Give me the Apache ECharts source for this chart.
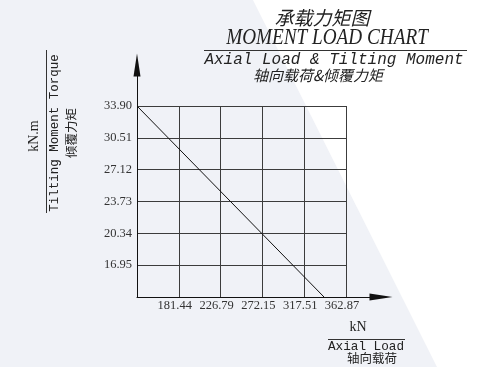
<!DOCTYPE html>
<html>
<head>
<meta charset="utf-8">
<script src="https://cdn.jsdelivr.net/npm/echarts@6/dist/echarts.min.js"></script>
<style>
html, body { margin: 0; padding: 0; }
#chart { width: 491px; height: 367px; }
</style>
</head>
<body>
<div id="chart"></div>
<script>
// axial load ticks (kN)
const xTicks = [136.08, 181.44, 226.79, 272.15, 317.51, 362.87]
const xTickLabels = ['', '181.44', '226.79', '272.15', '317.51', '362.87']
// tilting moment ticks (kN.m)
const yTicks = [13.56, 16.95, 20.34, 23.73, 27.12, 30.51, 33.90]
const yTickLabels = ['', '16.95', '20.34', '23.73', '27.12', '30.51', '33.90']
// load limit line
const lineX = [136.08, 339.0]
const lineY = [33.90, 13.56]

const ink = '#222'
const gridColor = '#3c3c3c'
const serif = 'Liberation Serif'
const mono = 'Liberation Mono'
const cjk = 'Noto Sans CJK SC'

const chart = echarts.init(document.getElementById('chart'))

function txt (text, x, y, font, opts) {
  return Object.assign({
    type: 'text',
    x: x,
    y: y,
    style: {
      text: text,
      font: font,
      fill: ink,
      align: 'center',
      verticalAlign: 'middle',
      textAlign: 'center',
      textVerticalAlign: 'middle'
    }
  }, opts || {})
}

function hline (x1, y1, x2, y2) {
  return {
    type: 'line',
    shape: { x1: x1, y1: y1, x2: x2, y2: y2 },
    style: { stroke: '#333', lineWidth: 1 }
  }
}

const option = {
  backgroundColor: '#f0f2f7',
  animation: false,
  grid: [
    { left: 137, top: 106, width: 209, height: 191, outerBoundsMode: 'none' },
    { left: 137, top: 65, width: 244, height: 232, outerBoundsMode: 'none' }
  ],
  xAxis: [
    {
      type: 'value',
      gridIndex: 0,
      min: xTicks[0],
      max: xTicks[xTicks.length - 1],
      interval: +(xTicks[1] - xTicks[0]).toFixed(2),
      axisLine: { show: false },
      axisTick: { show: false },
      splitLine: { show: true, lineStyle: { color: gridColor, width: 1 } },
      axisLabel: {
        margin: 2,
        fontFamily: serif,
        fontSize: 12.5,
        color: '#333',
        padding: [0, 8, 0, 0],
        formatter: (v, i) => xTickLabels[i] || ''
      }
    },
    {
      type: 'value',
      gridIndex: 1,
      min: 0,
      max: 1,
      axisLine: {
        show: true,
        symbol: ['none', 'triangle'],
        symbolSize: [7, 23],
        lineStyle: { color: '#111', width: 1 }
      },
      axisTick: { show: false },
      axisLabel: { show: false },
      splitLine: { show: false }
    }
  ],
  yAxis: [
    {
      type: 'value',
      gridIndex: 0,
      min: yTicks[0],
      max: yTicks[yTicks.length - 1],
      interval: +(yTicks[1] - yTicks[0]).toFixed(2),
      axisLine: { show: false },
      axisTick: { show: false },
      splitLine: { show: true, lineStyle: { color: gridColor, width: 1 } },
      axisLabel: {
        margin: 5,
        fontFamily: serif,
        fontSize: 12.5,
        color: '#333',
        formatter: (v, i) => yTickLabels[i] || ''
      }
    },
    {
      type: 'value',
      gridIndex: 1,
      min: 0,
      max: 1,
      axisLine: {
        show: true,
        symbol: ['none', 'triangle'],
        symbolSize: [7, 23],
        lineStyle: { color: '#111', width: 1 }
      },
      axisTick: { show: false },
      axisLabel: { show: false },
      splitLine: { show: false }
    }
  ],
  series: [
    {
      type: 'line',
      xAxisIndex: 0,
      yAxisIndex: 0,
      data: lineX.map((x, i) => [x, lineY[i]]),
      showSymbol: false,
      lineStyle: { color: '#111', width: 1 },
      silent: true
    }
  ],
  graphic: [
    {
      type: 'polygon',
      z: -10,
      shape: { points: [[253, 0], [491, 0], [491, 367], [437, 367]] },
      style: { fill: '#ffffff' }
    },
    // title block
    txt('承载力矩图', 322, 18, 'italic 19px "' + cjk + '"'),
    txt('MOMENT LOAD CHART', 327, 38, 'italic 24px "' + serif + '"', { scaleX: 0.8 }),
    hline(204, 50.5, 467, 50.5),
    txt('Axial Load & Tilting Moment', 334, 60, 'italic 16px "' + mono + '"'),
    txt('轴向载荷&倾覆力矩', 318, 75, 'italic 15px "' + cjk + '"'),
    // y axis title
    txt('kN.m', 34, 136, '14px "' + serif + '"', { rotation: Math.PI / 2 }),
    hline(46.5, 50, 46.5, 213),
    txt('Tilting Moment Torque', 55, 133, '12.5px "' + mono + '"', { rotation: Math.PI / 2 }),
    txt('倾覆力矩', 71.5, 133, '12.5px "' + cjk + '"', { rotation: Math.PI / 2 }),
    // x axis title
    txt('kN', 358, 327, '14px "' + serif + '"'),
    hline(328, 339.5, 405, 339.5),
    txt('Axial Load', 366, 347, '12.7px "' + mono + '"'),
    txt('轴向载荷', 372, 358, '12.5px "' + cjk + '"')
  ]
}

chart.setOption(option)
</script>
</body>
</html>
